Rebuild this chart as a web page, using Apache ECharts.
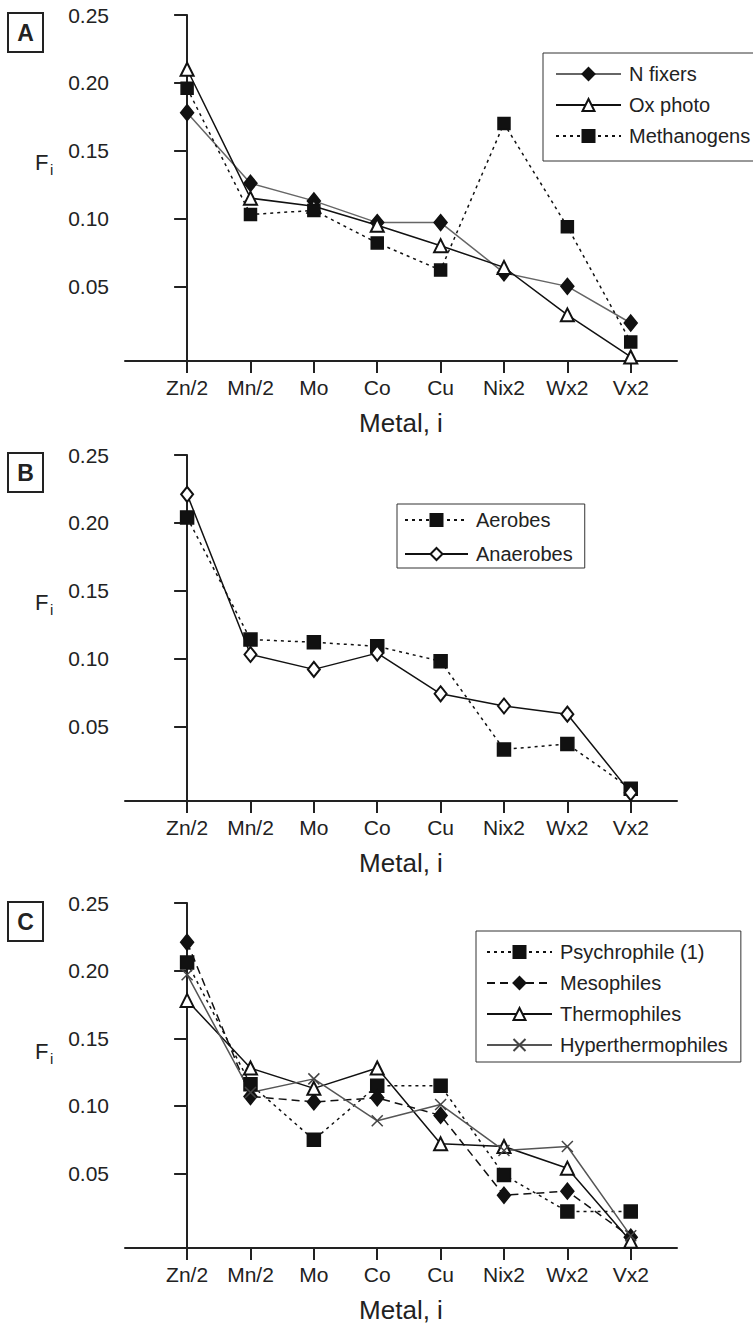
<!DOCTYPE html>
<html>
<head>
<meta charset="utf-8">
<script src="https://cdn.jsdelivr.net/npm/echarts@6/dist/echarts.min.js"></script>
<style>
html,body{margin:0;padding:0;background:#fff;}
#chart{width:753px;height:1324px;}
</style>
</head>
<body>
<div id="chart"></div>
<script>
// categories and tick labels
var metals = ['Zn/2','Mn/2','Mo','Co','Cu','Nix2','Wx2','Vx2'];
var yTicks = [0.05,0.10,0.15,0.20,0.25];

// panel A
var nFixers     = [0.178,0.126,0.113,0.097,0.097,0.060,0.050,0.023];
var oxPhoto     = [0.210,0.115,0.109,0.095,0.080,0.064,0.029,-0.002];
var methanogens = [0.196,0.103,0.106,0.082,0.062,0.170,0.094,0.009];
// panel B
var aerobes     = [0.204,0.114,0.112,0.109,0.098,0.033,0.037,0.004];
var anaerobes   = [0.221,0.103,0.092,0.104,0.074,0.065,0.059,0.001];
// panel C
var psychrophile      = [0.206,0.116,0.075,0.115,0.115,0.049,0.022,0.022];
var mesophiles        = [0.221,0.107,0.103,0.106,0.093,0.034,0.037,0.003];
var thermophiles      = [0.178,0.128,0.113,0.128,0.072,0.070,0.054,0.000];
var hyperthermophiles = [0.197,0.110,0.120,0.089,0.101,0.067,0.070,0.004];

var FONT = "'Liberation Sans', Arial, sans-serif";
var INK = '#222';
var panelTops = [15, 455, 903];
var panelOffsets = [0, 440, 889];
var letters = ['A','B','C'];
var catIdx = metals.map(function(m,i){ return i; });

function pts(vals){
	return vals.map(function(v,i){ return [i, v]; });
}

var grids = [], xAxes = [], yAxes = [], graphics = [];
for (var p = 0; p < 3; p++) {
	grids.push({left:125, width:552, top:panelTops[p], height:346});
	xAxes.push({
		type:'value', gridIndex:p, min:-0.98, max:7.73,
		name:'Metal, i', nameLocation:'middle', nameGap:49,
		nameTextStyle:{fontFamily:FONT, fontSize:26, color:INK},
		axisLine:{onZero:false, lineStyle:{color:INK, width:2}},
		axisTick:{customValues:catIdx, length:12, lineStyle:{color:INK, width:2}},
		axisLabel:{customValues:catIdx, margin:16, fontFamily:FONT, fontSize:21, color:INK,
			formatter:function(v){ return metals[Math.round(v)]; }},
		splitLine:{show:false}
	});
	yAxes.push({
		type:'value', gridIndex:p, min:-0.005, max:0.25,
		axisLine:{show:true, lineStyle:{color:INK, width:2}},
		axisTick:{show:true, customValues:yTicks, length:13, lineStyle:{color:INK, width:2}},
		axisLabel:{customValues:yTicks, margin:16, fontFamily:FONT, fontSize:21, color:INK,
			formatter:function(v){ return v.toFixed(2); }},
		splitLine:{show:false}
	});
	var dy = panelOffsets[p];
	graphics.push(
		{type:'rect', shape:{x:8, y:13+dy, width:35, height:39}, style:{fill:'none', stroke:INK, lineWidth:2}},
		{type:'text', x:25.5, y:33+dy, style:{text:letters[p], font:'bold 23px ' + FONT, fill:INK, align:'center', verticalAlign:'middle'}},
		{type:'text', x:35, y:162+dy, style:{text:'F', font:'22px ' + FONT, fill:INK, align:'left', verticalAlign:'middle'}},
		{type:'text', x:50, y:169+dy, style:{text:'i', font:'15px ' + FONT, fill:INK, align:'left', verticalAlign:'middle'}}
	);
}

function line(name, vals, idx, sym, size, lineColor, lineType, symColor){
	return {
		name:name, type:'line', xAxisIndex:idx, yAxisIndex:idx,
		data:pts(vals), symbol:sym, symbolSize:size, showAllSymbol:true,
		lineStyle:{color:lineColor, width:1.5, type:lineType},
		itemStyle:{color:symColor || '#111', borderColor:symColor || '#111', borderWidth:1.5},
		animation:false
	};
}

var xMark = 'path://M0,0L10,10M10,0L0,10';
var dots = [3,4];

var series = [
	line('N fixers', nFixers, 0, 'diamond', [13,16], '#666', 'solid'),
	line('Ox photo', oxPhoto, 0, 'emptyTriangle', 13, '#111', 'solid'),
	line('Methanogens', methanogens, 0, 'rect', 12, '#111', dots),
	line('Aerobes', aerobes, 1, 'rect', 13, '#111', dots),
	line('Anaerobes', anaerobes, 1, 'emptyDiamond', [12,15], '#111', 'solid'),
	line('Psychrophile (1)', psychrophile, 2, 'rect', 13, '#111', dots),
	line('Mesophiles', mesophiles, 2, 'diamond', [13,16], '#111', [8,5]),
	line('Thermophiles', thermophiles, 2, 'emptyTriangle', 13, '#111', 'solid'),
	line('Hyperthermophiles', hyperthermophiles, 2, xMark, 11, '#555', 'solid', '#444')
];

function legend(names, left, top, pad, itemWidth, gap){
	return {
		data:names, orient:'vertical', left:left, top:top, padding:pad,
		itemWidth:itemWidth, itemHeight:15, itemGap:gap,
		borderColor:'#333', borderWidth:1, backgroundColor:'#fff',
		textStyle:{fontFamily:FONT, fontSize:20, color:INK, lineHeight:20, padding:[0,0,0,3]},
		selectedMode:false
	};
}

var chart = echarts.init(document.getElementById('chart'), null, {renderer:'svg'});
chart.setOption({
	backgroundColor:'#fff',
	animation:false,
	grid:grids,
	xAxis:xAxes,
	yAxis:yAxes,
	legend:[
		legend(['N fixers','Ox photo','Methanogens'], 543, 53, [11,14,15,12], 65, 11),
		legend(['Aerobes','Anaerobes'], 397, 504, [6,12,4,7], 63, 14),
		legend(['Psychrophile (1)','Mesophiles','Thermophiles','Hyperthermophiles'], 476, 931, [11,13,7,10], 65, 11)
	],
	graphic:graphics,
	series:series
});
</script>
</body>
</html>
